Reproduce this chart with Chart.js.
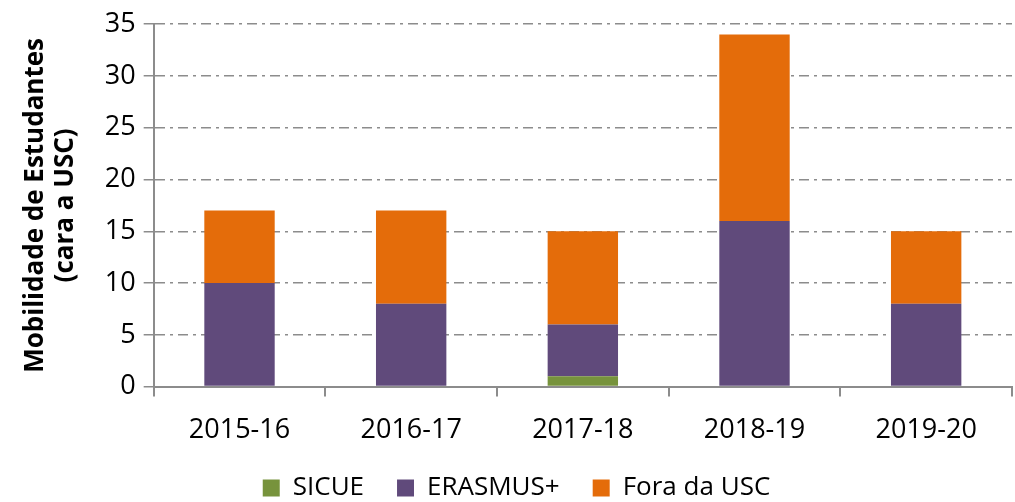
<!DOCTYPE html>
<html>
<head>
<meta charset="utf-8">
<script src="https://cdn.jsdelivr.net/npm/chart.js@4/dist/chart.umd.min.js"></script>
<style>
  html, body { margin: 0; padding: 0; background: #fff; }
  #wrap { width: 1015px; height: 502px; }
</style>
</head>
<body>
<div id="wrap"><canvas id="chart"></canvas></div>
<script>
// values
const years = ['2015-16', '2016-17', '2017-18', '2018-19', '2019-20'];
const sicue = [0, 0, 1, 0, 0];
const erasmus = [10, 8, 5, 16, 8];
const foraUsc = [7, 9, 9, 18, 7];

const FONT = "'Open Sans', 'Liberation Sans', sans-serif";
const gridColor = '#8c8c8c';
const LEGEND_GAP = 33;   // space between legend items
const LEGEND_TRIM = 23;  // legend padding we don't want taking chart height

// chart.js uses one padding value for both directions in the legend,
// so wide item gaps would squash the plot; trim the extra height back off
const legendSpacing = {
  id: 'legendSpacing',
  beforeLayout(chart) {
    const legend = chart.legend;
    if (!legend || legend._trimmed) return;
    const fit = legend.fit;
    legend.fit = function () {
      fit.call(this);
      this.height -= LEGEND_TRIM;
    };
    legend._trimmed = true;
  },
  afterLayout(chart) {
    // only move the top; legend clips to its box so keep the bottom
    chart.legend.top -= LEGEND_TRIM;
  }
};

new Chart(document.getElementById('chart'), {
  type: 'bar',
  data: {
    labels: years,
    datasets: [
      { label: 'SICUE', data: sicue, backgroundColor: '#77933c' },
      { label: 'ERASMUS+', data: erasmus, backgroundColor: '#604a7b' },
      { label: 'Fora da USC', data: foraUsc, backgroundColor: '#e46c0a' }
    ]
  },
  options: {
    responsive: true,
    maintainAspectRatio: false,
    animation: false,
    datasets: { bar: { barPercentage: 0.41, categoryPercentage: 1 } },
    // negative bottom padding lets the legend sit low like in the original
    layout: { padding: { top: -2, right: 3, left: 21, bottom: -9 } },
    plugins: {
      tooltip: { enabled: false },
      legend: {
        position: 'bottom',
        labels: {
          color: '#000',
          font: { family: FONT, size: 26 },
          boxWidth: 17,
          boxHeight: 17,
          padding: LEGEND_GAP
        }
      }
    },
    scales: {
      x: {
        stacked: true,
        grid: { drawOnChartArea: false, color: gridColor, tickLength: 10, lineWidth: 2 },
        border: { color: gridColor, width: 2 },
        ticks: { color: '#000', font: { family: FONT, size: 27 }, padding: 18 }
      },
      y: {
        stacked: true,
        min: 0,
        max: 35,
        ticks: { stepSize: 5, color: '#000', font: { family: FONT, size: 27 }, padding: 8 },
        grid: { color: gridColor, lineWidth: 1.5, tickLength: 10 },
        // dash-dot grid lines like the original
        border: { color: gridColor, width: 2, dash: [10, 5, 3, 5] },
        title: {
          display: true,
          text: ['Mobilidade de Estudantes', '(cara a USC)'],
          color: '#000',
          font: { family: FONT, size: 26, weight: 'bold', lineHeight: 1.15 },
          padding: { top: 0, bottom: 16 }
        }
      }
    }
  },
  plugins: [legendSpacing]
});
</script>
</body>
</html>
